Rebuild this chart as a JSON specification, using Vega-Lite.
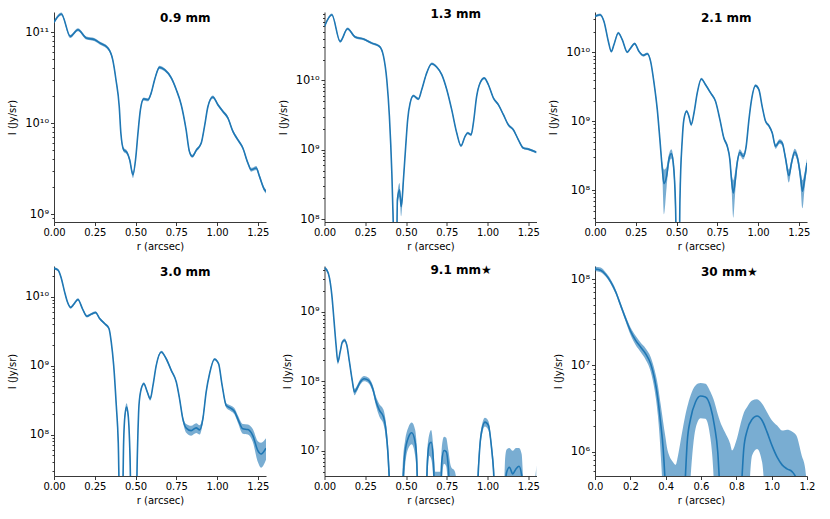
{
  "$schema": "https://vega.github.io/schema/vega-lite/v6.json",
  "padding": {"left": 7, "top": 8, "right": 5, "bottom": 5},
  "datasets": {
    "p1": [
      {"r": 0, "I": 1.28e11, "lo": 1.23e11, "hi": 1.33e11},
      {"r": 0.045, "I": 1.58e11, "lo": 1.52e11, "hi": 1.64e11},
      {"r": 0.1, "I": 8.96e10, "lo": 8.6e10, "hi": 9.3e10},
      {"r": 0.147, "I": 1.06e11, "lo": 1.02e11, "hi": 1.1e11},
      {"r": 0.198, "I": 8.6e10, "lo": 8.26e10, "hi": 8.94e10},
      {"r": 0.25, "I": 8.24e10, "lo": 7.91e10, "hi": 8.57e10},
      {"r": 0.28, "I": 7.59e10, "lo": 7.29e10, "hi": 7.89e10},
      {"r": 0.33, "I": 6.67e10, "lo": 6.4e10, "hi": 6.94e10},
      {"r": 0.36, "I": 4.97e10, "lo": 4.77e10, "hi": 5.17e10},
      {"r": 0.38, "I": 2.99e10, "lo": 2.87e10, "hi": 3.11e10},
      {"r": 0.4, "I": 1.52e10, "lo": 1.46e10, "hi": 1.58e10},
      {"r": 0.41, "I": 7.76e9, "lo": 7.45e9, "hi": 8.07e9},
      {"r": 0.427, "I": 5.09e9, "lo": 4.84e9, "hi": 5.34e9},
      {"r": 0.447, "I": 4.76e9, "lo": 4.52e9, "hi": 5.0e9},
      {"r": 0.464, "I": 3.95e9, "lo": 3.75e9, "hi": 4.15e9},
      {"r": 0.484, "I": 2.7e9, "lo": 2.48e9, "hi": 2.92e9},
      {"r": 0.5, "I": 3.95e9, "lo": 3.75e9, "hi": 4.15e9},
      {"r": 0.515, "I": 7.76e9, "lo": 7.45e9, "hi": 8.07e9},
      {"r": 0.53, "I": 1.4e10, "lo": 1.34e10, "hi": 1.46e10},
      {"r": 0.55, "I": 1.84e10, "lo": 1.77e10, "hi": 1.91e10},
      {"r": 0.576, "I": 1.8e10, "lo": 1.73e10, "hi": 1.87e10},
      {"r": 0.596, "I": 2.14e10, "lo": 2.05e10, "hi": 2.23e10},
      {"r": 0.617, "I": 2.99e10, "lo": 2.87e10, "hi": 3.11e10},
      {"r": 0.647, "I": 4.09e10, "lo": 3.93e10, "hi": 4.25e10},
      {"r": 0.678, "I": 3.85e10, "lo": 3.7e10, "hi": 4.0e10},
      {"r": 0.719, "I": 3.13e10, "lo": 3.0e10, "hi": 3.26e10},
      {"r": 0.75, "I": 2.32e10, "lo": 2.23e10, "hi": 2.41e10},
      {"r": 0.78, "I": 1.59e10, "lo": 1.53e10, "hi": 1.65e10},
      {"r": 0.81, "I": 8.45e9, "lo": 8.11e9, "hi": 8.79e9},
      {"r": 0.83, "I": 4.89e9, "lo": 4.69e9, "hi": 5.09e9},
      {"r": 0.848, "I": 4.31e9, "lo": 4.14e9, "hi": 4.48e9},
      {"r": 0.872, "I": 5.01e9, "lo": 4.81e9, "hi": 5.21e9},
      {"r": 0.903, "I": 6.03e9, "lo": 5.79e9, "hi": 6.27e9},
      {"r": 0.923, "I": 9.18e9, "lo": 8.81e9, "hi": 9.55e9},
      {"r": 0.944, "I": 1.52e10, "lo": 1.46e10, "hi": 1.58e10},
      {"r": 0.974, "I": 1.93e10, "lo": 1.85e10, "hi": 2.01e10},
      {"r": 1.005, "I": 1.59e10, "lo": 1.53e10, "hi": 1.65e10},
      {"r": 1.036, "I": 1.34e10, "lo": 1.29e10, "hi": 1.39e10},
      {"r": 1.066, "I": 1.14e10, "lo": 1.09e10, "hi": 1.19e10},
      {"r": 1.097, "I": 8.09e9, "lo": 7.77e9, "hi": 8.41e9},
      {"r": 1.127, "I": 6.56e9, "lo": 6.3e9, "hi": 6.82e9},
      {"r": 1.158, "I": 5.31e9, "lo": 5.1e9, "hi": 5.52e9},
      {"r": 1.189, "I": 3.63e9, "lo": 3.48e9, "hi": 3.78e9},
      {"r": 1.209, "I": 3.07e9, "lo": 2.92e9, "hi": 3.22e9},
      {"r": 1.24, "I": 3.2e9, "lo": 3.04e9, "hi": 3.36e9},
      {"r": 1.26, "I": 2.59e9, "lo": 2.46e9, "hi": 2.72e9},
      {"r": 1.291, "I": 1.85e9, "lo": 1.76e9, "hi": 1.94e9},
      {"r": 1.3, "I": 1.77e9, "lo": 1.68e9, "hi": 1.86e9}
    ],
    "p2": [
      {"r": 0, "I": 6.01e10, "lo": 5.77e10, "hi": 6.25e10},
      {"r": 0.045, "I": 8.85e10, "lo": 8.5e10, "hi": 9.2e10},
      {"r": 0.096, "I": 3.65e10, "lo": 3.5e10, "hi": 3.8e10},
      {"r": 0.141, "I": 5.56e10, "lo": 5.34e10, "hi": 5.78e10},
      {"r": 0.188, "I": 4.22e10, "lo": 4.05e10, "hi": 4.39e10},
      {"r": 0.239, "I": 3.94e10, "lo": 3.78e10, "hi": 4.1e10},
      {"r": 0.29, "I": 3.45e10, "lo": 3.31e10, "hi": 3.59e10},
      {"r": 0.337, "I": 3.09e10, "lo": 2.97e10, "hi": 3.21e10},
      {"r": 0.362, "I": 2.22e10, "lo": 2.13e10, "hi": 2.31e10},
      {"r": 0.382, "I": 1.02e10, "lo": 9.8e9, "hi": 1.06e10},
      {"r": 0.398, "I": 3.02e9, "lo": 2.85e9, "hi": 3.2e9},
      {"r": 0.413, "I": 4.57e8, "lo": 4.0e8, "hi": 5.2e8},
      {"r": 0.422, "I": 8e7, "lo": 5e7, "hi": 1.2e8},
      {"r": 0.432, "I": 1e7, "lo": 1e6, "hi": 3e7},
      {"r": 0.44, "I": 1e7, "lo": 1e6, "hi": 3e7},
      {"r": 0.447, "I": 1.9e8, "lo": 1.5e8, "hi": 2.3e8},
      {"r": 0.46, "I": 2.63e8, "lo": 2.1e8, "hi": 3.3e8},
      {"r": 0.47, "I": 1.51e8, "lo": 1.1e8, "hi": 1.9e8},
      {"r": 0.476, "I": 1.9e8, "lo": 1.5e8, "hi": 2.3e8},
      {"r": 0.484, "I": 3.69e8, "lo": 3.2e8, "hi": 4.2e8},
      {"r": 0.498, "I": 1.12e9, "lo": 1.05e9, "hi": 1.19e9},
      {"r": 0.51, "I": 2.71e9, "lo": 2.6e9, "hi": 2.82e9},
      {"r": 0.525, "I": 4.71e9, "lo": 4.52e9, "hi": 4.9e9},
      {"r": 0.545, "I": 6.01e9, "lo": 5.77e9, "hi": 6.25e9},
      {"r": 0.576, "I": 5.38e9, "lo": 5.16e9, "hi": 5.6e9},
      {"r": 0.596, "I": 7.33e9, "lo": 7.04e9, "hi": 7.62e9},
      {"r": 0.623, "I": 1.21e10, "lo": 1.16e10, "hi": 1.26e10},
      {"r": 0.658, "I": 1.74e10, "lo": 1.67e10, "hi": 1.81e10},
      {"r": 0.688, "I": 1.56e10, "lo": 1.5e10, "hi": 1.62e10},
      {"r": 0.719, "I": 1.21e10, "lo": 1.16e10, "hi": 1.26e10},
      {"r": 0.75, "I": 7.33e9, "lo": 7.04e9, "hi": 7.62e9},
      {"r": 0.78, "I": 3.78e9, "lo": 3.63e9, "hi": 3.93e9},
      {"r": 0.811, "I": 1.74e9, "lo": 1.67e9, "hi": 1.81e9},
      {"r": 0.837, "I": 1.14e9, "lo": 1.09e9, "hi": 1.19e9},
      {"r": 0.862, "I": 1.56e9, "lo": 1.5e9, "hi": 1.62e9},
      {"r": 0.878, "I": 1.74e9, "lo": 1.67e9, "hi": 1.81e9},
      {"r": 0.899, "I": 1.64e9, "lo": 1.57e9, "hi": 1.71e9},
      {"r": 0.913, "I": 2.43e9, "lo": 2.33e9, "hi": 2.53e9},
      {"r": 0.933, "I": 5.87e9, "lo": 5.64e9, "hi": 6.1e9},
      {"r": 0.954, "I": 9.16e9, "lo": 8.79e9, "hi": 9.53e9},
      {"r": 0.98, "I": 1.08e10, "lo": 1.04e10, "hi": 1.12e10},
      {"r": 1.005, "I": 8.66e9, "lo": 8.31e9, "hi": 9.01e9},
      {"r": 1.036, "I": 5.56e9, "lo": 5.34e9, "hi": 5.78e9},
      {"r": 1.066, "I": 4.46e9, "lo": 4.28e9, "hi": 4.64e9},
      {"r": 1.097, "I": 3.2e9, "lo": 3.07e9, "hi": 3.33e9},
      {"r": 1.127, "I": 2.29e9, "lo": 2.2e9, "hi": 2.38e9},
      {"r": 1.158, "I": 1.94e9, "lo": 1.86e9, "hi": 2.02e9},
      {"r": 1.189, "I": 1.39e9, "lo": 1.33e9, "hi": 1.45e9},
      {"r": 1.219, "I": 1.06e9, "lo": 1.02e9, "hi": 1.1e9},
      {"r": 1.25, "I": 1.02e9, "lo": 9.8e8, "hi": 1.06e9},
      {"r": 1.3, "I": 9.16e8, "lo": 8.8e8, "hi": 9.5e8}
    ],
    "p3": [
      {"r": 0, "I": 3.33e10, "lo": 3.2e10, "hi": 3.46e10},
      {"r": 0.031, "I": 3.52e10, "lo": 3.38e10, "hi": 3.66e10},
      {"r": 0.055, "I": 2.81e10, "lo": 2.7e10, "hi": 2.92e10},
      {"r": 0.082, "I": 1.44e10, "lo": 1.38e10, "hi": 1.5e10},
      {"r": 0.1, "I": 1.03e10, "lo": 9.9e9, "hi": 1.07e10},
      {"r": 0.116, "I": 1.29e10, "lo": 1.24e10, "hi": 1.34e10},
      {"r": 0.143, "I": 1.91e10, "lo": 1.83e10, "hi": 1.99e10},
      {"r": 0.167, "I": 1.53e10, "lo": 1.47e10, "hi": 1.59e10},
      {"r": 0.198, "I": 1.01e10, "lo": 9.7e9, "hi": 1.05e10},
      {"r": 0.219, "I": 1.16e10, "lo": 1.11e10, "hi": 1.21e10},
      {"r": 0.243, "I": 1.34e10, "lo": 1.29e10, "hi": 1.39e10},
      {"r": 0.27, "I": 1.03e10, "lo": 9.9e9, "hi": 1.07e10},
      {"r": 0.296, "I": 9.06e9, "lo": 8.7e9, "hi": 9.42e9},
      {"r": 0.321, "I": 9.57e9, "lo": 9.19e9, "hi": 9.95e9},
      {"r": 0.341, "I": 7.41e9, "lo": 7.11e9, "hi": 7.71e9},
      {"r": 0.362, "I": 3.6e9, "lo": 3.4e9, "hi": 3.8e9},
      {"r": 0.382, "I": 1.48e9, "lo": 1.38e9, "hi": 1.58e9},
      {"r": 0.398, "I": 5.42e8, "lo": 4.9e8, "hi": 6.0e8},
      {"r": 0.413, "I": 2.0e8, "lo": 1.6e8, "hi": 2.5e8},
      {"r": 0.423, "I": 1.25e8, "lo": 4.5e7, "hi": 2.0e8},
      {"r": 0.439, "I": 1.6e8, "lo": 1.1e8, "hi": 2.2e8},
      {"r": 0.453, "I": 2.78e8, "lo": 2.3e8, "hi": 3.3e8},
      {"r": 0.468, "I": 3.4e8, "lo": 2.9e8, "hi": 3.95e8},
      {"r": 0.48, "I": 2.49e8, "lo": 2.0e8, "hi": 3.0e8},
      {"r": 0.494, "I": 5.86e7, "lo": 3e7, "hi": 9e7},
      {"r": 0.503, "I": 5e6, "lo": 1e6, "hi": 1e7},
      {"r": 0.515, "I": 5e6, "lo": 1e6, "hi": 1e7},
      {"r": 0.521, "I": 7.33e7, "lo": 4.5e7, "hi": 1.0e8},
      {"r": 0.535, "I": 5.42e8, "lo": 5.0e8, "hi": 5.9e8},
      {"r": 0.545, "I": 1.06e9, "lo": 1.0e9, "hi": 1.12e9},
      {"r": 0.562, "I": 1.4e9, "lo": 1.33e9, "hi": 1.47e9},
      {"r": 0.576, "I": 1.18e9, "lo": 1.12e9, "hi": 1.24e9},
      {"r": 0.59, "I": 8.95e8, "lo": 8.5e8, "hi": 9.4e8},
      {"r": 0.607, "I": 1.32e9, "lo": 1.25e9, "hi": 1.39e9},
      {"r": 0.627, "I": 2.58e9, "lo": 2.48e9, "hi": 2.68e9},
      {"r": 0.652, "I": 4.11e9, "lo": 3.95e9, "hi": 4.27e9},
      {"r": 0.678, "I": 3.4e9, "lo": 3.26e9, "hi": 3.54e9},
      {"r": 0.709, "I": 2.58e9, "lo": 2.48e9, "hi": 2.68e9},
      {"r": 0.739, "I": 1.95e9, "lo": 1.87e9, "hi": 2.03e9},
      {"r": 0.766, "I": 1.06e9, "lo": 1.01e9, "hi": 1.11e9},
      {"r": 0.79, "I": 5.73e8, "lo": 5.4e8, "hi": 6.1e8},
      {"r": 0.811, "I": 4.35e8, "lo": 4.05e8, "hi": 4.65e8},
      {"r": 0.827, "I": 2.78e8, "lo": 2.5e8, "hi": 3.1e8},
      {"r": 0.837, "I": 1.43e8, "lo": 1.1e8, "hi": 1.8e8},
      {"r": 0.848, "I": 9.14e7, "lo": 4e7, "hi": 1.4e8},
      {"r": 0.858, "I": 1.28e8, "lo": 8e7, "hi": 1.8e8},
      {"r": 0.872, "I": 2.49e8, "lo": 2.1e8, "hi": 2.9e8},
      {"r": 0.888, "I": 3.56e8, "lo": 3.2e8, "hi": 3.95e8},
      {"r": 0.909, "I": 3.11e8, "lo": 2.8e8, "hi": 3.45e8},
      {"r": 0.927, "I": 4.35e8, "lo": 4.0e8, "hi": 4.7e8},
      {"r": 0.944, "I": 1.06e9, "lo": 1.0e9, "hi": 1.12e9},
      {"r": 0.96, "I": 2.06e9, "lo": 1.96e9, "hi": 2.16e9},
      {"r": 0.984, "I": 3.29e9, "lo": 3.14e9, "hi": 3.44e9},
      {"r": 1.005, "I": 2.88e9, "lo": 2.75e9, "hi": 3.01e9},
      {"r": 1.025, "I": 1.65e9, "lo": 1.57e9, "hi": 1.73e9},
      {"r": 1.046, "I": 1.0e9, "lo": 9.5e8, "hi": 1.05e9},
      {"r": 1.066, "I": 8.65e8, "lo": 8.2e8, "hi": 9.1e8},
      {"r": 1.087, "I": 6.78e8, "lo": 6.4e8, "hi": 7.2e8},
      {"r": 1.107, "I": 4.35e8, "lo": 4.0e8, "hi": 4.7e8},
      {"r": 1.132, "I": 5.13e8, "lo": 4.75e8, "hi": 5.5e8},
      {"r": 1.148, "I": 4.85e8, "lo": 4.45e8, "hi": 5.25e8},
      {"r": 1.168, "I": 2.94e8, "lo": 2.6e8, "hi": 3.3e8},
      {"r": 1.189, "I": 1.63e8, "lo": 1.3e8, "hi": 2.0e8},
      {"r": 1.205, "I": 2.49e8, "lo": 2.15e8, "hi": 2.85e8},
      {"r": 1.225, "I": 3.6e8, "lo": 3.2e8, "hi": 4.0e8},
      {"r": 1.244, "I": 2.78e8, "lo": 2.4e8, "hi": 3.2e8},
      {"r": 1.26, "I": 1.6e8, "lo": 1.2e8, "hi": 2.0e8},
      {"r": 1.272, "I": 9.68e7, "lo": 5.5e7, "hi": 1.4e8},
      {"r": 1.285, "I": 1.43e8, "lo": 1.05e8, "hi": 1.8e8},
      {"r": 1.3, "I": 2.49e8, "lo": 2.1e8, "hi": 2.9e8}
    ],
    "p4": [
      {"r": 0, "I": 2.59e10, "lo": 2.5e10, "hi": 2.68e10},
      {"r": 0.025, "I": 2.44e10, "lo": 2.35e10, "hi": 2.53e10},
      {"r": 0.045, "I": 1.85e10, "lo": 1.78e10, "hi": 1.92e10},
      {"r": 0.065, "I": 1.18e10, "lo": 1.13e10, "hi": 1.23e10},
      {"r": 0.082, "I": 8.45e9, "lo": 8.1e9, "hi": 8.8e9},
      {"r": 0.102, "I": 7.0e9, "lo": 6.72e9, "hi": 7.28e9},
      {"r": 0.12, "I": 7.73e9, "lo": 7.42e9, "hi": 8.04e9},
      {"r": 0.147, "I": 9.14e9, "lo": 8.77e9, "hi": 9.51e9},
      {"r": 0.174, "I": 6.76e9, "lo": 6.49e9, "hi": 7.03e9},
      {"r": 0.202, "I": 5.22e9, "lo": 5.01e9, "hi": 5.43e9},
      {"r": 0.229, "I": 5.6e9, "lo": 5.38e9, "hi": 5.82e9},
      {"r": 0.255, "I": 5.92e9, "lo": 5.68e9, "hi": 6.16e9},
      {"r": 0.28, "I": 4.83e9, "lo": 4.64e9, "hi": 5.02e9},
      {"r": 0.31, "I": 4.09e9, "lo": 3.93e9, "hi": 4.25e9},
      {"r": 0.337, "I": 3.46e9, "lo": 3.32e9, "hi": 3.6e9},
      {"r": 0.351, "I": 2.21e9, "lo": 2.12e9, "hi": 2.3e9},
      {"r": 0.366, "I": 1.01e9, "lo": 9.6e8, "hi": 1.06e9},
      {"r": 0.382, "I": 2.64e8, "lo": 2.45e8, "hi": 2.85e8},
      {"r": 0.394, "I": 7.73e7, "lo": 6.5e7, "hi": 9e7},
      {"r": 0.405, "I": 5e6, "lo": 1e6, "hi": 1e7},
      {"r": 0.418, "I": 5e6, "lo": 1e6, "hi": 1e7},
      {"r": 0.427, "I": 7.73e7, "lo": 6.5e7, "hi": 9e7},
      {"r": 0.435, "I": 1.89e8, "lo": 1.7e8, "hi": 2.1e8},
      {"r": 0.445, "I": 2.5e8, "lo": 2.2e8, "hi": 2.85e8},
      {"r": 0.455, "I": 1.89e8, "lo": 1.7e8, "hi": 2.1e8},
      {"r": 0.466, "I": 4.94e7, "lo": 3.5e7, "hi": 6.5e7},
      {"r": 0.475, "I": 5e6, "lo": 1e6, "hi": 1e7},
      {"r": 0.502, "I": 5e6, "lo": 1e6, "hi": 1e7},
      {"r": 0.511, "I": 4.94e7, "lo": 3.5e7, "hi": 6.5e7},
      {"r": 0.521, "I": 2.64e8, "lo": 2.45e8, "hi": 2.85e8},
      {"r": 0.535, "I": 4.62e8, "lo": 4.4e8, "hi": 4.85e8},
      {"r": 0.551, "I": 5.47e8, "lo": 5.2e8, "hi": 5.75e8},
      {"r": 0.572, "I": 4.14e8, "lo": 3.95e8, "hi": 4.35e8},
      {"r": 0.59, "I": 3.3e8, "lo": 3.1e8, "hi": 3.5e8},
      {"r": 0.607, "I": 5.18e8, "lo": 4.95e8, "hi": 5.4e8},
      {"r": 0.627, "I": 1.01e9, "lo": 9.6e8, "hi": 1.06e9},
      {"r": 0.658, "I": 1.58e9, "lo": 1.51e9, "hi": 1.65e9},
      {"r": 0.688, "I": 1.26e9, "lo": 1.2e9, "hi": 1.32e9},
      {"r": 0.719, "I": 8.55e8, "lo": 8.15e8, "hi": 8.95e8},
      {"r": 0.75, "I": 5.78e8, "lo": 5.5e8, "hi": 6.05e8},
      {"r": 0.77, "I": 3.3e8, "lo": 3.1e8, "hi": 3.5e8},
      {"r": 0.79, "I": 1.69e8, "lo": 1.55e8, "hi": 1.85e8},
      {"r": 0.811, "I": 1.24e8, "lo": 1.06e8, "hi": 1.42e8},
      {"r": 0.841, "I": 1.14e8, "lo": 9.6e7, "hi": 1.34e8},
      {"r": 0.872, "I": 1.25e8, "lo": 1.05e8, "hi": 1.46e8},
      {"r": 0.893, "I": 1.17e8, "lo": 1.0e8, "hi": 1.36e8},
      {"r": 0.913, "I": 1.69e8, "lo": 1.5e8, "hi": 1.9e8},
      {"r": 0.933, "I": 4.14e8, "lo": 3.9e8, "hi": 4.4e8},
      {"r": 0.954, "I": 7.64e8, "lo": 7.3e8, "hi": 8.0e8},
      {"r": 0.984, "I": 1.24e9, "lo": 1.19e9, "hi": 1.29e9},
      {"r": 1.009, "I": 1.07e9, "lo": 1.02e9, "hi": 1.12e9},
      {"r": 1.031, "I": 5.18e8, "lo": 4.9e8, "hi": 5.5e8},
      {"r": 1.056, "I": 2.64e8, "lo": 2.45e8, "hi": 2.85e8},
      {"r": 1.083, "I": 2.42e8, "lo": 2.2e8, "hi": 2.65e8},
      {"r": 1.107, "I": 2.16e8, "lo": 1.95e8, "hi": 2.4e8},
      {"r": 1.127, "I": 1.69e8, "lo": 1.5e8, "hi": 1.9e8},
      {"r": 1.158, "I": 1.21e8, "lo": 1.03e8, "hi": 1.42e8},
      {"r": 1.189, "I": 1.18e8, "lo": 1.0e8, "hi": 1.4e8},
      {"r": 1.219, "I": 9.66e7, "lo": 7.8e7, "hi": 1.2e8},
      {"r": 1.25, "I": 5.85e7, "lo": 4.0e7, "hi": 8.0e7},
      {"r": 1.27, "I": 5.22e7, "lo": 3.3e7, "hi": 7.6e7},
      {"r": 1.3, "I": 6.32e7, "lo": 4.3e7, "hi": 8.8e7}
    ],
    "p5": [
      {"r": 0, "I": 4.22e9, "lo": 4.0e9, "hi": 4.45e9},
      {"r": 0.014, "I": 3.99e9, "lo": 3.8e9, "hi": 4.2e9},
      {"r": 0.031, "I": 3.03e9, "lo": 2.88e9, "hi": 3.18e9},
      {"r": 0.045, "I": 1.74e9, "lo": 1.65e9, "hi": 1.83e9},
      {"r": 0.059, "I": 7.18e8, "lo": 6.8e8, "hi": 7.6e8},
      {"r": 0.071, "I": 3.3e8, "lo": 3.1e8, "hi": 3.5e8},
      {"r": 0.082, "I": 1.9e8, "lo": 1.75e8, "hi": 2.05e8},
      {"r": 0.096, "I": 2.65e8, "lo": 2.5e8, "hi": 2.8e8},
      {"r": 0.11, "I": 3.69e8, "lo": 3.5e8, "hi": 3.9e8},
      {"r": 0.123, "I": 3.9e8, "lo": 3.68e8, "hi": 4.12e8},
      {"r": 0.137, "I": 3.3e8, "lo": 3.1e8, "hi": 3.5e8},
      {"r": 0.153, "I": 1.9e8, "lo": 1.78e8, "hi": 2.02e8},
      {"r": 0.17, "I": 1.03e8, "lo": 9.5e7, "hi": 1.11e8},
      {"r": 0.184, "I": 7.01e7, "lo": 6.3e7, "hi": 7.8e7},
      {"r": 0.198, "I": 7.83e7, "lo": 7.1e7, "hi": 8.6e7},
      {"r": 0.219, "I": 9.77e7, "lo": 8.9e7, "hi": 1.07e8},
      {"r": 0.243, "I": 1.09e8, "lo": 1.0e8, "hi": 1.19e8},
      {"r": 0.27, "I": 1.03e8, "lo": 9.4e7, "hi": 1.13e8},
      {"r": 0.296, "I": 7.83e7, "lo": 7.0e7, "hi": 8.8e7},
      {"r": 0.317, "I": 5.04e7, "lo": 4.3e7, "hi": 5.9e7},
      {"r": 0.337, "I": 3.82e7, "lo": 3.1e7, "hi": 4.7e7},
      {"r": 0.362, "I": 3.06e7, "lo": 2.4e7, "hi": 3.9e7},
      {"r": 0.378, "I": 1.86e7, "lo": 1.4e7, "hi": 2.4e7},
      {"r": 0.39, "I": 8.57e6, "lo": 5.5e6, "hi": 1.2e7},
      {"r": 0.4, "I": 3e6, "lo": 1e6, "hi": 5e6},
      {"r": 0.41, "I": 1e6, "lo": 1e5, "hi": 2e6},
      {"r": 0.47, "I": 1e6, "lo": 1e5, "hi": 2e6},
      {"r": 0.482, "I": 4e6, "lo": 1e6, "hi": 8e6},
      {"r": 0.494, "I": 9.57e6, "lo": 6e6, "hi": 1.4e7},
      {"r": 0.515, "I": 1.57e7, "lo": 1.1e7, "hi": 2.2e7},
      {"r": 0.535, "I": 1.82e7, "lo": 1.25e7, "hi": 2.55e7},
      {"r": 0.556, "I": 1.33e7, "lo": 8.5e6, "hi": 2.0e7},
      {"r": 0.566, "I": 6.87e6, "lo": 3.5e6, "hi": 1.15e7},
      {"r": 0.576, "I": 1e6, "lo": 1e5, "hi": 4e6},
      {"r": 0.62, "I": 1e6, "lo": 1e5, "hi": 4e6},
      {"r": 0.631, "I": 6.87e6, "lo": 4e6, "hi": 1.1e7},
      {"r": 0.643, "I": 1.26e7, "lo": 8.5e6, "hi": 1.75e7},
      {"r": 0.654, "I": 1.33e7, "lo": 7.7e6, "hi": 2.0e7},
      {"r": 0.668, "I": 6.87e6, "lo": 3.5e6, "hi": 1.1e7},
      {"r": 0.68, "I": 1e6, "lo": 1e5, "hi": 5e6},
      {"r": 0.71, "I": 1e6, "lo": 1e5, "hi": 5e6},
      {"r": 0.719, "I": 6.87e6, "lo": 3.5e6, "hi": 1.1e7},
      {"r": 0.733, "I": 1.01e7, "lo": 6.5e6, "hi": 1.6e7},
      {"r": 0.746, "I": 9.77e6, "lo": 6e6, "hi": 1.55e7},
      {"r": 0.76, "I": 5.5e6, "lo": 2e6, "hi": 1.0e7},
      {"r": 0.775, "I": 1e6, "lo": 1e5, "hi": 6e6},
      {"r": 0.8, "I": 1e6, "lo": 1e5, "hi": 5e6},
      {"r": 0.82, "I": 1e6, "lo": 1e5, "hi": 3e6},
      {"r": 0.93, "I": 1e6, "lo": 1e5, "hi": 3e6},
      {"r": 0.944, "I": 5.5e6, "lo": 3.5e6, "hi": 8e6},
      {"r": 0.958, "I": 1.57e7, "lo": 1.3e7, "hi": 1.9e7},
      {"r": 0.984, "I": 2.59e7, "lo": 2.25e7, "hi": 3.0e7},
      {"r": 1.005, "I": 2.32e7, "lo": 2.0e7, "hi": 2.7e7},
      {"r": 1.025, "I": 1.07e7, "lo": 8.5e6, "hi": 1.3e7},
      {"r": 1.036, "I": 5.5e6, "lo": 3.5e6, "hi": 7.5e6},
      {"r": 1.05, "I": 1e6, "lo": 1e5, "hi": 3e6},
      {"r": 1.1, "I": 1e6, "lo": 1e5, "hi": 3e6},
      {"r": 1.108, "I": 3e6, "lo": 1e6, "hi": 8e6},
      {"r": 1.117, "I": 4.92e6, "lo": 2e6, "hi": 1.05e7},
      {"r": 1.134, "I": 5.81e6, "lo": 3e6, "hi": 1.1e7},
      {"r": 1.154, "I": 4.66e6, "lo": 2e6, "hi": 1.0e7},
      {"r": 1.174, "I": 5.5e6, "lo": 2.5e6, "hi": 1.1e7},
      {"r": 1.193, "I": 6.01e6, "lo": 3e6, "hi": 1.1e7},
      {"r": 1.209, "I": 4.41e6, "lo": 1.5e6, "hi": 9e6},
      {"r": 1.22, "I": 1e6, "lo": 1e5, "hi": 4e6},
      {"r": 1.28, "I": 1e6, "lo": 1e5, "hi": 3e6},
      {"r": 1.3, "I": 1e6, "lo": 1e5, "hi": 6.2e6}
    ],
    "p6": [
      {"r": 0, "I": 1.31e8, "lo": 1.24e8, "hi": 1.39e8},
      {"r": 0.032, "I": 1.27e8, "lo": 1.2e8, "hi": 1.36e8},
      {"r": 0.06, "I": 1.13e8, "lo": 1.07e8, "hi": 1.2e8},
      {"r": 0.089, "I": 9.31e7, "lo": 8.8e7, "hi": 9.9e7},
      {"r": 0.117, "I": 7.13e7, "lo": 6.7e7, "hi": 7.6e7},
      {"r": 0.145, "I": 4.99e7, "lo": 4.7e7, "hi": 5.3e7},
      {"r": 0.173, "I": 3.49e7, "lo": 3.25e7, "hi": 3.75e7},
      {"r": 0.202, "I": 2.48e7, "lo": 2.23e7, "hi": 2.72e7},
      {"r": 0.23, "I": 1.95e7, "lo": 1.72e7, "hi": 2.2e7},
      {"r": 0.258, "I": 1.63e7, "lo": 1.43e7, "hi": 1.84e7},
      {"r": 0.286, "I": 1.37e7, "lo": 1.17e7, "hi": 1.58e7},
      {"r": 0.315, "I": 1.04e7, "lo": 8.5e6, "hi": 1.25e7},
      {"r": 0.337, "I": 7.0e6, "lo": 5.2e6, "hi": 8.9e6},
      {"r": 0.356, "I": 4.09e6, "lo": 2.62e6, "hi": 5.85e6},
      {"r": 0.371, "I": 2.19e6, "lo": 1.0e6, "hi": 3.6e6},
      {"r": 0.386, "I": 1.07e6, "lo": 2e5, "hi": 2.19e6},
      {"r": 0.398, "I": 4e5, "lo": 1e4, "hi": 1.5e6},
      {"r": 0.41, "I": 1e5, "lo": 1e4, "hi": 1.05e6},
      {"r": 0.42, "I": 1e5, "lo": 1e4, "hi": 9e5},
      {"r": 0.44, "I": 1e5, "lo": 1e4, "hi": 7.6e5},
      {"r": 0.456, "I": 1e5, "lo": 1e4, "hi": 7.0e5},
      {"r": 0.47, "I": 1e5, "lo": 1e4, "hi": 9.0e5},
      {"r": 0.49, "I": 1e5, "lo": 1e4, "hi": 1.54e6},
      {"r": 0.509, "I": 4e5, "lo": 1e4, "hi": 2.5e6},
      {"r": 0.522, "I": 1.29e6, "lo": 1e5, "hi": 3.28e6},
      {"r": 0.541, "I": 2.4e6, "lo": 5e5, "hi": 4.48e6},
      {"r": 0.569, "I": 3.75e6, "lo": 1.84e6, "hi": 5.85e6},
      {"r": 0.597, "I": 4.4e6, "lo": 2.44e6, "hi": 6.24e6},
      {"r": 0.625, "I": 4.29e6, "lo": 2.4e6, "hi": 6.12e6},
      {"r": 0.654, "I": 3.28e6, "lo": 1.4e6, "hi": 4.9e6},
      {"r": 0.676, "I": 2.0e6, "lo": 3e5, "hi": 3.75e6},
      {"r": 0.695, "I": 9.8e5, "lo": 1e4, "hi": 2.7e6},
      {"r": 0.706, "I": 4e5, "lo": 1e4, "hi": 2.29e6},
      {"r": 0.735, "I": 1e5, "lo": 1e4, "hi": 1.68e6},
      {"r": 0.765, "I": 1e5, "lo": 1e4, "hi": 1.23e6},
      {"r": 0.776, "I": 1e5, "lo": 1e4, "hi": 1.03e6},
      {"r": 0.8, "I": 1e5, "lo": 1e4, "hi": 1.34e6},
      {"r": 0.829, "I": 4e5, "lo": 1e4, "hi": 2.29e6},
      {"r": 0.842, "I": 1.07e6, "lo": 1e4, "hi": 2.8e6},
      {"r": 0.861, "I": 1.75e6, "lo": 1e5, "hi": 3.28e6},
      {"r": 0.889, "I": 2.36e6, "lo": 8.97e5, "hi": 3.92e6},
      {"r": 0.917, "I": 2.58e6, "lo": 1.07e6, "hi": 4.03e6},
      {"r": 0.946, "I": 2.29e6, "lo": 7.5e5, "hi": 3.58e6},
      {"r": 0.974, "I": 1.68e6, "lo": 1e5, "hi": 2.86e6},
      {"r": 1.002, "I": 1.17e6, "lo": 1e4, "hi": 2.29e6},
      {"r": 1.031, "I": 8.6e5, "lo": 1e4, "hi": 2.0e6},
      {"r": 1.059, "I": 7.0e5, "lo": 1e4, "hi": 1.75e6},
      {"r": 1.087, "I": 6.28e5, "lo": 1e4, "hi": 1.79e6},
      {"r": 1.115, "I": 5.85e5, "lo": 1e4, "hi": 1.71e6},
      {"r": 1.14, "I": 4.8e5, "lo": 1e4, "hi": 1.53e6},
      {"r": 1.17, "I": 1e5, "lo": 1e4, "hi": 8.97e5},
      {"r": 1.19, "I": 1e5, "lo": 1e4, "hi": 6.28e5},
      {"r": 1.2, "I": 1e5, "lo": 1e4, "hi": 4e5}
    ]
  },
  "columns": 3,
  "spacing": {"row": 44, "column": 58.5},
  "bounds": "flush",
  "concat": [
    {
      "data": {"name": "p1"},
      "width": 212, "height": 210,
      "title": {"text": "0.9 mm"},
      "encoding": {
        "x": {"field": "r", "type": "quantitative", "scale": {"domain": [0, 1.3], "nice": false, "zero": false},
              "axis": {"title": "r (arcsec)", "values": [0, 0.25, 0.5, 0.75, 1, 1.25], "format": ".2f"}}
      },
      "layer": [
        {"mark": {"type": "area", "clip": true, "color": "#1f77b4", "opacity": 0.6, "interpolate": "monotone"},
         "encoding": {
           "y": {"field": "lo", "type": "quantitative", "scale": {"type": "log", "domain": [8.17e8, 1.66e11], "nice": false},
                 "axis": {"title": "I (Jy/sr)", "values": [9e8, 1e9, 2e9, 3e9, 4e9, 5e9, 6e9, 7e9, 8e9, 9e9, 1e10, 2e10, 3e10, 4e10, 5e10, 6e10, 7e10, 8e10, 9e10, 1e11],
                          "labelExpr": "datum.value == 1e6 ? '10⁶' : datum.value == 1e7 ? '10⁷' : datum.value == 1e8 ? '10⁸' : datum.value == 1e9 ? '10⁹' : datum.value == 1e10 ? '10¹⁰' : datum.value == 1e11 ? '10¹¹' : ''",
                          "tickSize": {"condition": {"test": "datum.value == 1e6 || datum.value == 1e7 || datum.value == 1e8 || datum.value == 1e9 || datum.value == 1e10 || datum.value == 1e11", "value": 3.5}, "value": 2}}},
           "y2": {"field": "hi"}
         }},
        {"mark": {"type": "line", "clip": true, "color": "#1f77b4", "strokeWidth": 1.6, "interpolate": "monotone"},
         "encoding": {"y": {"field": "I", "type": "quantitative"}}}
      ]
    },
    {
      "data": {"name": "p2"},
      "width": 212, "height": 210,
      "title": {"text": "1.3 mm"},
      "encoding": {
        "x": {"field": "r", "type": "quantitative", "scale": {"domain": [0, 1.3], "nice": false, "zero": false},
              "axis": {"title": "r (arcsec)", "values": [0, 0.25, 0.5, 0.75, 1, 1.25], "format": ".2f"}}
      },
      "layer": [
        {"mark": {"type": "area", "clip": true, "color": "#1f77b4", "opacity": 0.6, "interpolate": "monotone"},
         "encoding": {
           "y": {"field": "lo", "type": "quantitative", "scale": {"type": "log", "domain": [9.06e7, 9.7e10], "nice": false},
                 "axis": {"title": "I (Jy/sr)", "values": [1e8, 2e8, 3e8, 4e8, 5e8, 6e8, 7e8, 8e8, 9e8, 1e9, 2e9, 3e9, 4e9, 5e9, 6e9, 7e9, 8e9, 9e9, 1e10, 2e10, 3e10, 4e10, 5e10, 6e10, 7e10, 8e10, 9e10],
                          "labelExpr": "datum.value == 1e6 ? '10⁶' : datum.value == 1e7 ? '10⁷' : datum.value == 1e8 ? '10⁸' : datum.value == 1e9 ? '10⁹' : datum.value == 1e10 ? '10¹⁰' : datum.value == 1e11 ? '10¹¹' : ''",
                          "tickSize": {"condition": {"test": "datum.value == 1e6 || datum.value == 1e7 || datum.value == 1e8 || datum.value == 1e9 || datum.value == 1e10 || datum.value == 1e11", "value": 3.5}, "value": 2}}},
           "y2": {"field": "hi"}
         }},
        {"mark": {"type": "line", "clip": true, "color": "#1f77b4", "strokeWidth": 1.6, "interpolate": "monotone"},
         "encoding": {"y": {"field": "I", "type": "quantitative"}}}
      ]
    },
    {
      "data": {"name": "p3"},
      "width": 212, "height": 210,
      "title": {"text": "2.1 mm"},
      "encoding": {
        "x": {"field": "r", "type": "quantitative", "scale": {"domain": [0, 1.3], "nice": false, "zero": false},
              "axis": {"title": "r (arcsec)", "values": [0, 0.25, 0.5, 0.75, 1, 1.25], "format": ".2f"}}
      },
      "layer": [
        {"mark": {"type": "area", "clip": true, "color": "#1f77b4", "opacity": 0.6, "interpolate": "monotone"},
         "encoding": {
           "y": {"field": "lo", "type": "quantitative", "scale": {"type": "log", "domain": [3.47e7, 3.85e10], "nice": false},
                 "axis": {"title": "I (Jy/sr)", "values": [4e7, 5e7, 6e7, 7e7, 8e7, 9e7, 1e8, 2e8, 3e8, 4e8, 5e8, 6e8, 7e8, 8e8, 9e8, 1e9, 2e9, 3e9, 4e9, 5e9, 6e9, 7e9, 8e9, 9e9, 1e10, 2e10, 3e10],
                          "labelExpr": "datum.value == 1e6 ? '10⁶' : datum.value == 1e7 ? '10⁷' : datum.value == 1e8 ? '10⁸' : datum.value == 1e9 ? '10⁹' : datum.value == 1e10 ? '10¹⁰' : datum.value == 1e11 ? '10¹¹' : ''",
                          "tickSize": {"condition": {"test": "datum.value == 1e6 || datum.value == 1e7 || datum.value == 1e8 || datum.value == 1e9 || datum.value == 1e10 || datum.value == 1e11", "value": 3.5}, "value": 2}}},
           "y2": {"field": "hi"}
         }},
        {"mark": {"type": "line", "clip": true, "color": "#1f77b4", "strokeWidth": 1.6, "interpolate": "monotone"},
         "encoding": {"y": {"field": "I", "type": "quantitative"}}}
      ]
    },
    {
      "data": {"name": "p4"},
      "width": 212, "height": 210,
      "title": {"text": "3.0 mm"},
      "encoding": {
        "x": {"field": "r", "type": "quantitative", "scale": {"domain": [0, 1.3], "nice": false, "zero": false},
              "axis": {"title": "r (arcsec)", "values": [0, 0.25, 0.5, 0.75, 1, 1.25], "format": ".2f"}}
      },
      "layer": [
        {"mark": {"type": "area", "clip": true, "color": "#1f77b4", "opacity": 0.6, "interpolate": "monotone"},
         "encoding": {
           "y": {"field": "lo", "type": "quantitative", "scale": {"type": "log", "domain": [2.5e7, 2.8e10], "nice": false},
                 "axis": {"title": "I (Jy/sr)", "values": [3e7, 4e7, 5e7, 6e7, 7e7, 8e7, 9e7, 1e8, 2e8, 3e8, 4e8, 5e8, 6e8, 7e8, 8e8, 9e8, 1e9, 2e9, 3e9, 4e9, 5e9, 6e9, 7e9, 8e9, 9e9, 1e10, 2e10],
                          "labelExpr": "datum.value == 1e6 ? '10⁶' : datum.value == 1e7 ? '10⁷' : datum.value == 1e8 ? '10⁸' : datum.value == 1e9 ? '10⁹' : datum.value == 1e10 ? '10¹⁰' : datum.value == 1e11 ? '10¹¹' : ''",
                          "tickSize": {"condition": {"test": "datum.value == 1e6 || datum.value == 1e7 || datum.value == 1e8 || datum.value == 1e9 || datum.value == 1e10 || datum.value == 1e11", "value": 3.5}, "value": 2}}},
           "y2": {"field": "hi"}
         }},
        {"mark": {"type": "line", "clip": true, "color": "#1f77b4", "strokeWidth": 1.6, "interpolate": "monotone"},
         "encoding": {"y": {"field": "I", "type": "quantitative"}}}
      ]
    },
    {
      "data": {"name": "p5"},
      "width": 212, "height": 210,
      "title": {"text": "9.1 mm★"},
      "encoding": {
        "x": {"field": "r", "type": "quantitative", "scale": {"domain": [0, 1.3], "nice": false, "zero": false},
              "axis": {"title": "r (arcsec)", "values": [0, 0.25, 0.5, 0.75, 1, 1.25], "format": ".2f"}}
      },
      "layer": [
        {"mark": {"type": "area", "clip": true, "color": "#1f77b4", "opacity": 0.6, "interpolate": "monotone"},
         "encoding": {
           "y": {"field": "lo", "type": "quantitative", "scale": {"type": "log", "domain": [4.35e6, 4.56e9], "nice": false},
                 "axis": {"title": "I (Jy/sr)", "values": [5e6, 6e6, 7e6, 8e6, 9e6, 1e7, 2e7, 3e7, 4e7, 5e7, 6e7, 7e7, 8e7, 9e7, 1e8, 2e8, 3e8, 4e8, 5e8, 6e8, 7e8, 8e8, 9e8, 1e9, 2e9, 3e9, 4e9],
                          "labelExpr": "datum.value == 1e6 ? '10⁶' : datum.value == 1e7 ? '10⁷' : datum.value == 1e8 ? '10⁸' : datum.value == 1e9 ? '10⁹' : datum.value == 1e10 ? '10¹⁰' : datum.value == 1e11 ? '10¹¹' : ''",
                          "tickSize": {"condition": {"test": "datum.value == 1e6 || datum.value == 1e7 || datum.value == 1e8 || datum.value == 1e9 || datum.value == 1e10 || datum.value == 1e11", "value": 3.5}, "value": 2}}},
           "y2": {"field": "hi"}
         }},
        {"mark": {"type": "line", "clip": true, "color": "#1f77b4", "strokeWidth": 1.6, "interpolate": "monotone"},
         "encoding": {"y": {"field": "I", "type": "quantitative"}}}
      ]
    },
    {
      "data": {"name": "p6"},
      "width": 212, "height": 210,
      "title": {"text": "30 mm★"},
      "encoding": {
        "x": {"field": "r", "type": "quantitative", "scale": {"domain": [0, 1.2], "nice": false, "zero": false},
              "axis": {"title": "r (arcsec)", "values": [0, 0.2, 0.4, 0.6, 0.8, 1, 1.2], "format": ".1f"}}
      },
      "layer": [
        {"mark": {"type": "area", "clip": true, "color": "#1f77b4", "opacity": 0.6, "interpolate": "monotone"},
         "encoding": {
           "y": {"field": "lo", "type": "quantitative", "scale": {"type": "log", "domain": [5.2e5, 1.42e8], "nice": false},
                 "axis": {"title": "I (Jy/sr)", "values": [6e5, 7e5, 8e5, 9e5, 1e6, 2e6, 3e6, 4e6, 5e6, 6e6, 7e6, 8e6, 9e6, 1e7, 2e7, 3e7, 4e7, 5e7, 6e7, 7e7, 8e7, 9e7, 1e8],
                          "labelExpr": "datum.value == 1e6 ? '10⁶' : datum.value == 1e7 ? '10⁷' : datum.value == 1e8 ? '10⁸' : datum.value == 1e9 ? '10⁹' : datum.value == 1e10 ? '10¹⁰' : datum.value == 1e11 ? '10¹¹' : ''",
                          "tickSize": {"condition": {"test": "datum.value == 1e6 || datum.value == 1e7 || datum.value == 1e8 || datum.value == 1e9 || datum.value == 1e10 || datum.value == 1e11", "value": 3.5}, "value": 2}}},
           "y2": {"field": "hi"}
         }},
        {"mark": {"type": "line", "clip": true, "color": "#1f77b4", "strokeWidth": 1.6, "interpolate": "monotone"},
         "encoding": {"y": {"field": "I", "type": "quantitative"}}}
      ]
    }
  ],
  "config": {
    "font": "DejaVu Sans",
    "view": {"stroke": null},
    "title": {"anchor": "start", "frame": "group", "dx": 106, "offset": -13, "baseline": "middle", "fontSize": 12, "fontWeight": "bold", "color": "black", "font": "DejaVu Sans"},
    "axis": {"grid": false, "domainColor": "#222", "tickColor": "#222", "domainWidth": 0.9, "tickWidth": 0.9, "tickSize": 3.5,
             "labelColor": "black", "labelFont": "DejaVu Sans", "labelFontSize": 10, "labelPadding": 2, "labelFlush": false, "labelOverlap": false,
             "titleColor": "black", "titleFont": "DejaVu Sans", "titleFontSize": 10, "titleFontWeight": "normal", "titlePadding": 4},
    "axisY": {"labelFontSize": 11.5, "titlePadding": 7}
  }
}
